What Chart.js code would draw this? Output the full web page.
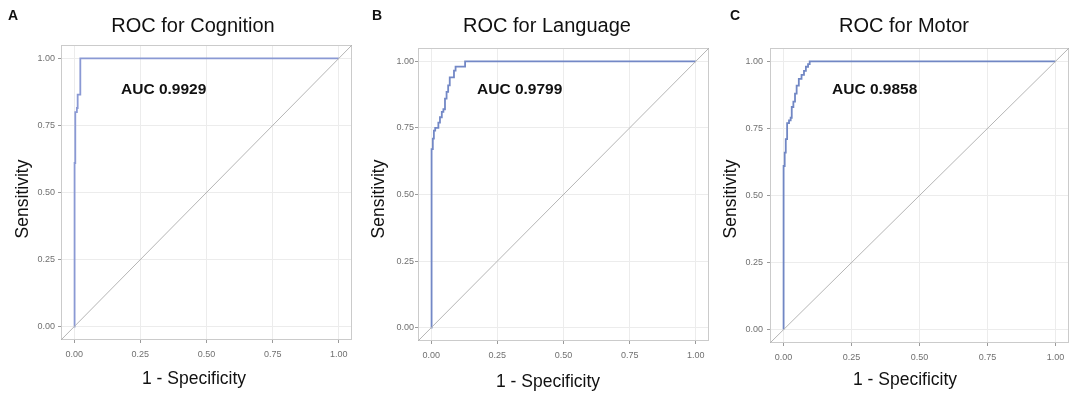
<!DOCTYPE html>
<html>
<head>
<meta charset="utf-8">
<script src="https://cdn.jsdelivr.net/npm/chart.js@4.4.1/dist/chart.umd.min.js"></script>
<style>
  html, body { margin: 0; padding: 0; background: #fff; }
  .panel { position: absolute; top: 0; height: 408px; }
</style>
</head>
<body>
<div class="panel" style="left:0;width:360px"><canvas id="roc0"></canvas></div>
<div class="panel" style="left:360px;width:360px"><canvas id="roc1"></canvas></div>
<div class="panel" style="left:720px;width:364px"><canvas id="roc2"></canvas></div>
<script>
const PANEL_LETTERS = ['A', 'B', 'C'];
const PANEL_TITLES  = ['ROC for Cognition', 'ROC for Language', 'ROC for Motor'];
const AUC_LABELS    = ['AUC 0.9929', 'AUC 0.9799', 'AUC 0.9858'];
const X_TITLE = '1 - Specificity';
const Y_TITLE = 'Sensitivity';

const TICK_VALUES = [0, 0.25, 0.5, 0.75, 1];
const TICK_LABELS = ['0.00', '0.25', '0.50', '0.75', '1.00'];
const AXIS_RANGE  = [-0.05, 1.05];

// ROC vertices (1 - specificity, sensitivity)
const cognitionFpr = [0, 0, 0.002, 0.002, 0.004, 0.004, 0.010, 0.010, 0.013, 0.013, 0.023, 0.023, 1];
const cognitionTpr = [0, 0.52, 0.52, 0.61, 0.61, 0.80, 0.80, 0.815, 0.815, 0.865, 0.865, 1, 1];

const languageFpr = [0, 0, 0.002, 0.002, 0.006, 0.006, 0.010, 0.010, 0.015, 0.015, 0.027, 0.027, 0.033, 0.033,
                     0.040, 0.040, 0.046, 0.046, 0.052, 0.052, 0.058, 0.058, 0.064, 0.064, 0.070, 0.070,
                     0.086, 0.086, 0.092, 0.092, 0.128, 0.128, 1];
const languageTpr = [0, 0.40, 0.40, 0.67, 0.67, 0.71, 0.71, 0.74, 0.74, 0.75, 0.75, 0.77, 0.77, 0.79,
                     0.79, 0.81, 0.81, 0.82, 0.82, 0.86, 0.86, 0.885, 0.885, 0.91, 0.91, 0.94,
                     0.94, 0.965, 0.965, 0.98, 0.98, 1, 1];

const motorFpr = [0, 0, 0.004, 0.004, 0.008, 0.008, 0.013, 0.013, 0.020, 0.020, 0.026, 0.026, 0.030, 0.030,
                  0.036, 0.036, 0.042, 0.042, 0.048, 0.048, 0.056, 0.056, 0.066, 0.066, 0.075, 0.075,
                  0.082, 0.082, 0.090, 0.090, 0.096, 0.096, 1];
const motorTpr = [0, 0.61, 0.61, 0.66, 0.66, 0.71, 0.71, 0.77, 0.77, 0.78, 0.78, 0.79, 0.79, 0.83,
                  0.83, 0.85, 0.85, 0.88, 0.88, 0.91, 0.91, 0.935, 0.935, 0.95, 0.95, 0.965,
                  0.965, 0.98, 0.98, 0.99, 0.99, 1, 1];

const CURVES = [
  [cognitionFpr, cognitionTpr],
  [languageFpr, languageTpr],
  [motorFpr, motorTpr],
];

const FONT = "'Liberation Sans', Arial, Helvetica, sans-serif";
const TICK_COLOR = '#707070';
const GRID_COLOR = '#ececec';
const BOX_COLOR  = '#cbcbcb';
const DIAG_COLOR = '#b5b5b5';

// per-panel geometry (canvas-relative px)
const LAYOUT = [
  { yW: 61, padR: 8,  padT: 45, xH: 68, yPad: 3, color: '#8a99d4',
    letter: [8, 20],  title: [193, 32], auc: [121, 94], xTitle: [194, 384], yTitle: [27.5, 199] },
  { yW: 58, padR: 11, padT: 48, xH: 67, yPad: 1, color: '#7388c6',
    letter: [12, 20], title: [187, 32], auc: [117, 94], xTitle: [188, 387], yTitle: [24, 199] },
  { yW: 50, padR: 15, padT: 48, xH: 65, yPad: 4, color: '#7187c4',
    letter: [10, 20], title: [184, 32], auc: [112, 94], xTitle: [185, 385], yTitle: [16, 199] },
];

const panelText = {
  id: 'panelText',
  beforeDatasetsDraw(chart) {
    const { ctx, chartArea: a } = chart;
    ctx.save();
    ctx.strokeStyle = BOX_COLOR;
    ctx.lineWidth = 1;
    ctx.strokeRect(a.left + 0.5, a.top + 0.5, a.width - 1, a.height - 1);
    ctx.restore();
  },
  afterDraw(chart, args, o) {
    const { ctx } = chart;
    const L = o.layout;
    ctx.save();
    ctx.fillStyle = '#111';
    ctx.textBaseline = 'alphabetic';

    ctx.textAlign = 'left';
    ctx.font = `bold 14px ${FONT}`;
    ctx.fillText(o.letter, L.letter[0], L.letter[1]);

    ctx.textAlign = 'center';
    ctx.font = `20px ${FONT}`;
    ctx.fillText(o.title, L.title[0], L.title[1]);

    ctx.textAlign = 'left';
    ctx.font = `bold 15.5px ${FONT}`;
    ctx.fillText(o.auc, L.auc[0], L.auc[1]);

    ctx.textAlign = 'center';
    ctx.font = `17.5px ${FONT}`;
    ctx.fillText(X_TITLE, L.xTitle[0], L.xTitle[1]);

    ctx.translate(L.yTitle[0], L.yTitle[1]);
    ctx.rotate(-Math.PI / 2);
    ctx.fillText(Y_TITLE, 0, 0);
    ctx.restore();
  },
};

function tickScale(extra) {
  return Object.assign({
    type: 'linear',
    min: AXIS_RANGE[0],
    max: AXIS_RANGE[1],
    afterBuildTicks: (s) => { s.ticks = TICK_VALUES.map((v) => ({ value: v })); },
    grid: { color: GRID_COLOR, tickColor: '#9a9a9a', tickLength: 3, lineWidth: 1 },
    border: { display: false },
  }, extra);
}

CURVES.forEach(([fpr, tpr], i) => {
  const L = LAYOUT[i];
  const tickOpts = (pad) => ({
    color: TICK_COLOR,
    font: { family: FONT, size: 9 },
    padding: pad,
    callback: (v) => TICK_LABELS[TICK_VALUES.indexOf(v)],
  });

  new Chart(document.getElementById('roc' + i), {
    type: 'scatter',
    data: {
      datasets: [
        {
          data: AXIS_RANGE.map((v) => ({ x: v, y: v })),
          showLine: true,
          borderColor: DIAG_COLOR,
          borderWidth: 1,
          pointRadius: 0,
        },
        {
          data: fpr.map((x, k) => ({ x, y: tpr[k] })),
          showLine: true,
          borderColor: L.color,
          borderWidth: 1.8,
          pointRadius: 0,
          tension: 0,
        },
      ],
    },
    options: {
      responsive: true,
      maintainAspectRatio: false,
      animation: false,
      events: [],
      layout: { padding: { left: 0, right: L.padR, top: L.padT, bottom: 0 } },
      plugins: {
        legend: { display: false },
        tooltip: { enabled: false },
        panelText: {
          layout: L,
          letter: PANEL_LETTERS[i],
          title: PANEL_TITLES[i],
          auc: AUC_LABELS[i],
        },
      },
      scales: {
        x: tickScale({
          position: 'bottom',
          afterFit: (s) => { s.height = L.xH; },
          ticks: tickOpts(6),
        }),
        y: tickScale({
          position: 'left',
          afterFit: (s) => { s.width = L.yW; },
          ticks: tickOpts(L.yPad),
        }),
      },
    },
    plugins: [panelText],
  });
});
</script>
</body>
</html>
